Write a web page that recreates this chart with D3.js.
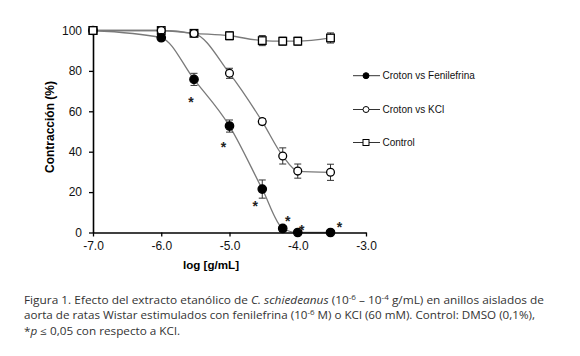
<!DOCTYPE html>
<html>
<head>
<meta charset="utf-8">
<script src="https://cdn.jsdelivr.net/npm/d3@7"></script>
<style>
  body { margin: 0; background: #fff; }
  svg { display: block; }
</style>
</head>
<body>
<svg id="chart" width="580" height="356"></svg>
<script>
// log dose of the extract (g/mL)
const logDose = [-7, -6, -5.52, -5, -4.52, -4.22, -4, -3.52]

// % contraction, mean and error
const fenilefrina = [100, 96.4, 75.8, 52.7, 21.5, 2, 0, 0]
const fenilefrinaErr = [0, 1.2, 3, 3, 4.5, 1.5, 0, 0]
const kcl = [100, 100, 98.5, 78.8, 54.9, 37.9, 30.4, 29.8]
const kclErr = [0, 0, 1, 2.5, 1.5, 4, 3.5, 4]
const control = [100, 100, 98.6, 97.4, 95, 94.7, 94.7, 96.3]
const controlErr = [0, 0, 1, 2, 2.5, 2, 2, 2.5]

const seriesNames = ['Croton vs Fenilefrina', 'Croton vs KCl', 'Control']

// doses marked with * (p <= 0.05 vs KCl)
const starDoses = [-5.52, -5, -4.52, -4.22, -4, -3.52]

const xTicks = [-7, -6, -5, -4, -3]
const yTicks = [0, 20, 40, 60, 80, 100]

const svg = d3.select('#chart')
const font = 'Liberation Sans, Arial, Helvetica, sans-serif'

const x = d3.scaleLinear().domain([-7, -3]).range([93, 366])
const y = d3.scaleLinear().domain([0, 100]).range([232.5, 30.5])

const lineColor = '#7a7a7a'

const series = [
  { name: seriesNames[2], values: control, err: controlErr, shape: 'square' },
  { name: seriesNames[1], values: kcl, err: kclErr, shape: 'open' },
  { name: seriesNames[0], values: fenilefrina, err: fenilefrinaErr, shape: 'filled' }
]

const line = d3.line()
  .x(d => x(d[0]))
  .y(d => y(d[1]))
  .curve(d3.curveMonotoneX)

// fitted curves
series.forEach(s => {
  svg.append('path')
    .datum(logDose.map((d, i) => [d, s.values[i]]))
    .attr('d', line)
    .attr('fill', 'none')
    .attr('stroke', lineColor)
    .attr('stroke-width', 1.3)
})

function drawMarker(g, shape, cx, cy) {
  if (shape === 'square') {
    g.append('rect')
      .attr('x', cx - 3.8).attr('y', cy - 3.8)
      .attr('width', 7.6).attr('height', 7.6)
      .attr('fill', '#fff').attr('stroke', '#000').attr('stroke-width', 1.3)
  } else {
    g.append('circle')
      .attr('cx', cx).attr('cy', cy).attr('r', shape === 'filled' ? 4.2 : 3.9)
      .attr('fill', shape === 'filled' ? '#000' : '#fff')
      .attr('stroke', '#000').attr('stroke-width', 1.3)
  }
}

// error bars + markers
series.forEach(s => {
  const g = svg.append('g')
  logDose.forEach((d, i) => {
    const e = s.err[i]
    if (e > 0) {
      const cx = x(d)
      const y0 = y(s.values[i] - e), y1 = y(s.values[i] + e)
      g.append('line').attr('x1', cx).attr('x2', cx).attr('y1', y0).attr('y2', y1)
        .attr('stroke', '#333').attr('stroke-width', 1)
      ;[y0, y1].forEach(yy => {
        g.append('line').attr('x1', cx - 3.5).attr('x2', cx + 3.5).attr('y1', yy).attr('y2', yy)
          .attr('stroke', '#333').attr('stroke-width', 1)
      })
    }
  })
  logDose.forEach((d, i) => drawMarker(g, s.shape, x(d), y(s.values[i])))
})

// asterisks, placed next to the Fenilefrina points
const starOffset = [[-3, 21], [-6, 19], [-7, 15], [5, -9], [4, -5], [9, -8]]
starDoses.forEach((d, i) => {
  const idx = logDose.indexOf(d)
  svg.append('text')
    .attr('x', x(d) + starOffset[i][0])
    .attr('y', y(fenilefrina[idx]) + starOffset[i][1] + 7)
    .attr('text-anchor', 'middle')
    .style('font-family', font)
    .style('font-size', '14px')
    .style('font-weight', 'bold')
    .attr('fill', '#222')
    .text('*')
})

// axes
const xAxis = d3.axisBottom(x).tickValues(xTicks).tickSize(4).tickSizeOuter(0)
  .tickFormat(d3.format('.1f'))
const gx = svg.append('g').attr('transform', `translate(0,${y(0)})`).call(xAxis)
gx.select('.domain').attr('stroke-width', 1.6)
gx.selectAll('.tick line').attr('stroke-width', 1.3)
gx.selectAll('.tick text')
  .attr('y', 9).attr('dy', '0.71em')
  .style('font-family', font).style('font-size', '12px').attr('fill', '#111')
  .text(d => d3.format('.1f')(d).replace('−', '-'))

const yAxis = d3.axisLeft(y).tickValues(yTicks).tickSize(4).tickSizeOuter(0)
const gy = svg.append('g').attr('transform', `translate(${x(-7)},0)`).call(yAxis)
gy.select('.domain').attr('stroke-width', 1.6)
gy.selectAll('.tick line').attr('stroke-width', 1.3)
gy.selectAll('.tick text')
  .attr('x', -11)
  .style('font-family', font).style('font-size', '12px').attr('fill', '#111')

// redraw the -7 marker over the y axis
drawMarker(svg.append('g'), 'square', x(-7), y(control[0]))

// axis titles
svg.append('text')
  .attr('transform', 'translate(54,127) rotate(-90)')
  .attr('text-anchor', 'middle')
  .style('font-family', font).style('font-size', '12px').style('font-weight', 'bold')
  .text('Contracción (%)')

svg.append('text')
  .attr('x', 211).attr('y', 269)
  .attr('text-anchor', 'middle')
  .style('font-family', font).style('font-size', '11.6px').style('font-weight', 'bold')
  .text('log [g/mL]')

// legend
const legendRows = [
  { name: seriesNames[0], shape: 'filled', y: 75.7 },
  { name: seriesNames[1], shape: 'open', y: 109.5 },
  { name: seriesNames[2], shape: 'square', y: 142.5 }
]
legendRows.forEach(r => {
  const g = svg.append('g')
  g.append('line').attr('x1', 353).attr('x2', 380).attr('y1', r.y).attr('y2', r.y)
    .attr('stroke', '#333').attr('stroke-width', 1)
  if (r.shape === 'square') {
    g.append('rect').attr('x', 363).attr('y', r.y - 3).attr('width', 6).attr('height', 6)
      .attr('fill', '#fff').attr('stroke', '#000').attr('stroke-width', 1)
  } else {
    g.append('circle').attr('cx', 366).attr('cy', r.y).attr('r', 3)
      .attr('fill', r.shape === 'filled' ? '#000' : '#fff').attr('stroke', '#000').attr('stroke-width', 1)
  }
  g.append('text').attr('x', 382.5).attr('y', r.y + 3.6)
    .style('font-family', font).style('font-size', '10px').attr('fill', '#111')
    .text(r.name)
})

// caption
const capFont = '"Open Sans", "Noto Sans", sans-serif'
const caption = [
  { y: 303.5, w: 520, parts: [
    ['Figura 1. Efecto del extracto etanólico de '], ['C. schiedeanus', 'i'], [' (10'], ['-6', 's'],
    [' – 10'], ['-4', 's'], [' g/mL) en anillos aislados de'] ] },
  { y: 319.2, w: 511, parts: [
    ['aorta de ratas Wistar estimulados con fenilefrina (10'], ['-6', 's'], [' M) o KCl (60 mM). Control: DMSO (0,1%),'] ] },
  { y: 335, w: 156, parts: [
    ['*'], ['p', 'i'], [' ≤ 0,05 con respecto a KCl.'] ] }
]
caption.forEach(l => {
  const t = svg.append('text')
    .attr('x', 24).attr('y', l.y)
    .style('font-family', capFont).style('font-size', '10.3px').style('font-weight', 400)
    .attr('fill', '#333')
  let afterSup = false
  l.parts.forEach(p => {
    const ts = t.append('tspan').text(p[0])
    if (p[1] === 'i') ts.style('font-style', 'italic')
    if (p[1] === 's') ts.attr('dy', -4).style('font-size', '7px')
    else if (afterSup) ts.attr('dy', 4)
    afterSup = p[1] === 's'
  })
  t.attr('textLength', l.w).attr('lengthAdjust', 'spacingAndGlyphs')
})
</script>
</body>
</html>
